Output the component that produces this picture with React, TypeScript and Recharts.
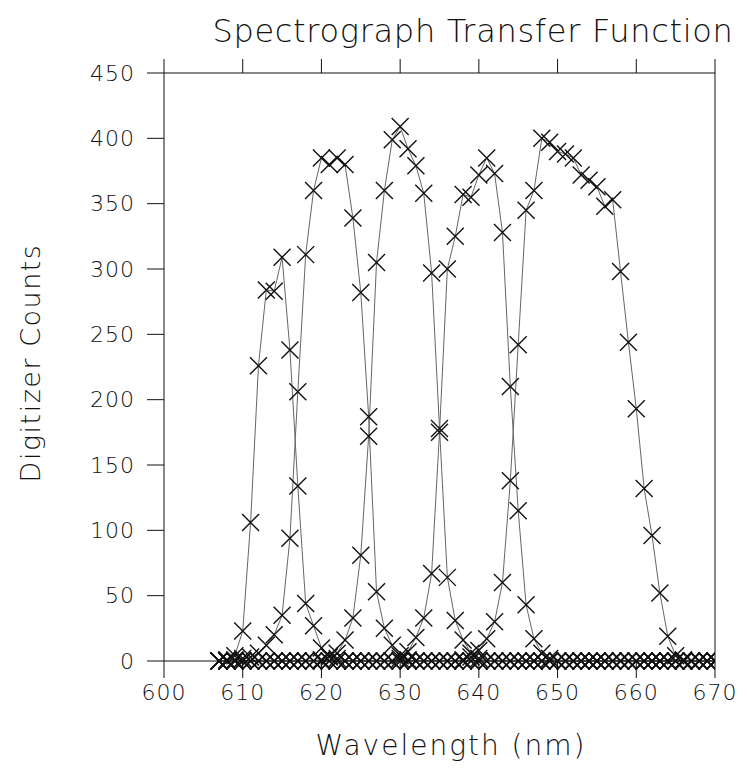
import { LineChart, Line, XAxis, YAxis } from 'recharts';

// wavelength grid (nm), one sample per nm
const wavelengths = [
  607, 608, 609, 610, 611, 612, 613, 614, 615, 616, 617, 618, 619, 620, 621, 622,
  623, 624, 625, 626, 627, 628, 629, 630, 631, 632, 633, 634, 635, 636, 637, 638,
  639, 640, 641, 642, 643, 644, 645, 646, 647, 648, 649, 650, 651, 652, 653, 654,
  655, 656, 657, 658, 659, 660, 661, 662, 663, 664, 665, 666, 667, 668, 669, 670
];

const channel1 = [
  0, 1, 4, 23, 106, 226, 284, 283, 309, 238, 134, 44, 27, 10, 4, 2,
  0, 0, 0, 0, 0, 0, 0, 0, 0, 0, 0, 0, 0, 0, 0, 0,
  0, 0, 0, 0, 0, 0, 0, 0, 0, 0, 0, 0, 0, 0, 0, 0,
  0, 0, 0, 0, 0, 0, 0, 0, 0, 0, 0, 0, 0, 0, 0, 0
];
const channel2 = [
  0, 0, 1, 2, 3, 6, 12, 20, 35, 94, 206, 311, 360, 385, 380, 385,
  380, 339, 282, 187, 53, 25, 12, 4, 1, 0, 0, 0, 0, 0, 0, 0,
  0, 0, 0, 0, 0, 0, 0, 0, 0, 0, 0, 0, 0, 0, 0, 0,
  0, 0, 0, 0, 0, 0, 0, 0, 0, 0, 0, 0, 0, 0, 0, 0
];
const channel3 = [
  0, 0, 0, 0, 0, 0, 0, 0, 0, 0, 0, 0, 0, 1, 3, 6,
  16, 33, 81, 172, 305, 360, 399, 409, 392, 379, 358, 297, 178, 64, 31, 16,
  6, 2, 0, 0, 0, 0, 0, 0, 0, 0, 0, 0, 0, 0, 0, 0,
  0, 0, 0, 0, 0, 0, 0, 0, 0, 0, 0, 0, 0, 0, 0, 0
];
const channel4 = [
  0, 0, 0, 0, 0, 0, 0, 0, 0, 0, 0, 0, 0, 0, 0, 0,
  0, 0, 0, 0, 0, 0, 0, 2, 7, 18, 33, 67, 175, 300, 325, 357,
  355, 372, 385, 373, 328, 210, 115, 43, 17, 6, 2, 0, 0, 0, 0, 0,
  0, 0, 0, 0, 0, 0, 0, 0, 0, 0, 0, 0, 0, 0, 0, 0
];
const channel5 = [
  0, 0, 0, 0, 0, 0, 0, 0, 0, 0, 0, 0, 0, 0, 0, 0,
  0, 0, 0, 0, 0, 0, 0, 0, 0, 0, 0, 0, 0, 0, 0, 1,
  3, 8, 17, 30, 60, 138, 242, 345, 360, 400, 397, 390, 388, 385, 372, 368,
  363, 348, 353, 298, 244, 193, 132, 96, 52, 19, 4, 1, 0, 0, 0, 0
];

const xTicks = [600, 610, 620, 630, 640, 650, 660, 670];
const yTicks = [0, 50, 100, 150, 200, 250, 300, 350, 400, 450];

const channels = [channel1, channel2, channel3, channel4, channel5];

const rows = wavelengths.map((wl, i) => {
  const row: Record<string, number> = { wl };
  channels.forEach((ch, k) => {
    row[`c${k + 1}`] = ch[i];
  });
  return row;
});

const FONT = '"DejaVu Sans", sans-serif';
const INK = '#111';

const XMark = (props: any) => {
  const { cx, cy } = props;
  if (cx == null || cy == null) return null;
  const r = 8.5;
  return (
    <path
      d={`M${cx - r},${cy - r}L${cx + r},${cy + r}M${cx - r},${cy + r}L${cx + r},${cy - r}`}
      stroke="#111"
      strokeWidth={1.4}
      fill="none"
    />
  );
};

const tickStyle = { fontSize: 22, fill: INK, fontFamily: FONT, fontWeight: 200, letterSpacing: 1 };

const labelStyle = {
  position: 'absolute' as const,
  whiteSpace: 'nowrap' as const,
  fontFamily: FONT,
  fontWeight: 200,
  fontSize: 27,
  letterSpacing: 1.5,
  color: INK
};

const App = () => {
  return (
    <div style={{ position: 'absolute', left: 0, top: 0, width: 747, height: 774, background: '#fff' }}>
      <div
        style={{
          ...labelStyle,
          left: 473,
          top: 31,
          transform: 'translate(-50%, -50%)',
          fontSize: 32,
          letterSpacing: 0.7
        }}
      >
        Spectrograph Transfer Function
      </div>
      <div
        style={{
          ...labelStyle,
          left: 30,
          top: 363,
          transform: 'translate(-50%, -50%) rotate(-90deg)'
        }}
      >
        Digitizer Counts
      </div>
      <div
        style={{
          ...labelStyle,
          left: 451,
          top: 745,
          transform: 'translate(-50%, -50%)',
          fontSize: 28,
          letterSpacing: 2
        }}
      >
        Wavelength (nm)
      </div>
      <div style={{ position: 'absolute', left: 0, top: 0 }}>
        <LineChart
          width={747}
          height={774}
          data={rows}
          margin={{ top: 43, right: 0, bottom: 53, left: 0 }}
        >
          <XAxis
            xAxisId="bottom"
            dataKey="wl"
            type="number"
            domain={[600, 670]}
            ticks={xTicks}
            allowDataOverflow
            height={60}
            tickSize={17}
            tickMargin={6}
            stroke="#111"
            tick={tickStyle}
          />
          <XAxis
            xAxisId="top"
            orientation="top"
            dataKey="wl"
            type="number"
            domain={[600, 670]}
            ticks={xTicks}
            height={30}
            tickSize={14}
            stroke="#111"
            tickFormatter={() => ''}
          />
          <YAxis
            yAxisId="left"
            type="number"
            domain={[0, 450]}
            ticks={yTicks}
            width={164}
            tickSize={17}
            tickMargin={12}
            stroke="#111"
            tick={tickStyle}
          />
          <YAxis
            yAxisId="right"
            orientation="right"
            type="number"
            domain={[0, 450]}
            ticks={yTicks}
            width={32}
            tickSize={17}
            stroke="#111"
            tickFormatter={() => ''}
          />
          {channels.map((_, k) => (
            <Line
              key={k}
              xAxisId="bottom"
              yAxisId="left"
              type="linear"
              dataKey={`c${k + 1}`}
              stroke="#666"
              strokeWidth={1}
              dot={<XMark />}
              activeDot={false}
              isAnimationActive={false}
            />
          ))}
        </LineChart>
      </div>
    </div>
  );
};

export default App;
